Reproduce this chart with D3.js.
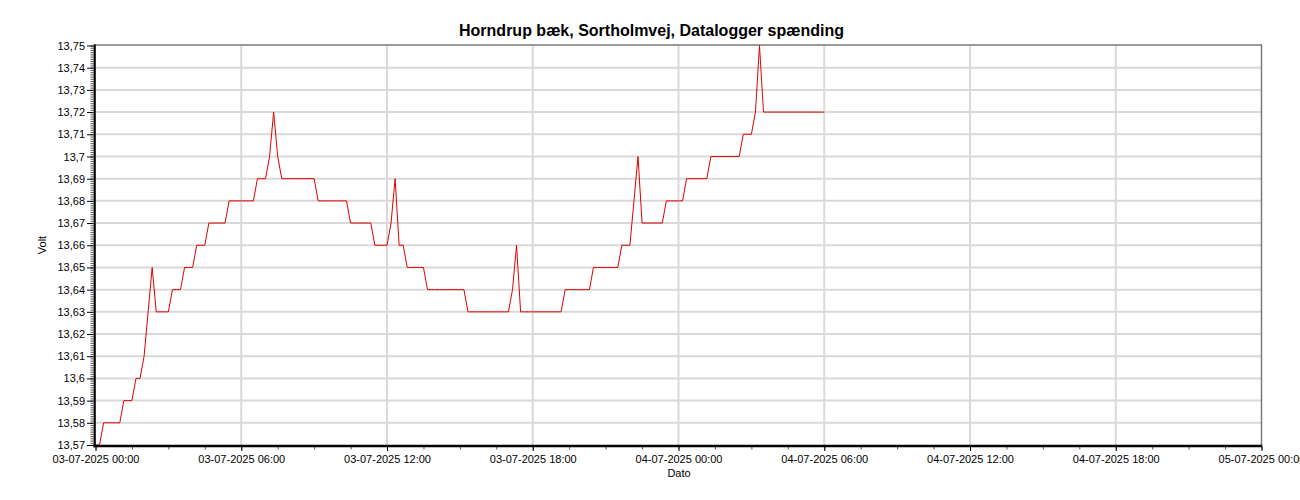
<!DOCTYPE html>
<html>
<head>
<meta charset="utf-8">
<script src="https://cdn.jsdelivr.net/npm/d3@7"></script>
<style>
  html, body { margin: 0; padding: 0; background: #ffffff; }
  svg { display: block; font-family: "Liberation Sans", Arial, sans-serif; }
</style>
</head>
<body>
<svg id="chart" width="1300" height="500"></svg>
<script>
// ---- Data ----
const chartTitle = "Horndrup bæk, Sortholmvej, Datalogger spænding";
const yAxisTitle = "Volt";
const xAxisTitle = "Dato";

const seriesStart = new Date(2025, 6, 3, 0, 0);   // 03-07-2025 00:00
const sampleMinutes = 10;                          // one reading every 10 minutes

// Datalogger voltage readings (Volt), one per 10 minutes from 03-07-2025 00:00 to 04-07-2025 06:00
const volts = [
  13.57,13.57,13.58,13.58,13.58,13.58,13.58,13.59,13.59,13.59,
  13.60,13.60,13.61,13.63,13.65,13.63,13.63,13.63,13.63,13.64,
  13.64,13.64,13.65,13.65,13.65,13.66,13.66,13.66,13.67,13.67,
  13.67,13.67,13.67,13.68,13.68,13.68,13.68,13.68,13.68,13.68,
  13.69,13.69,13.69,13.70,13.72,13.70,13.69,13.69,13.69,13.69,
  13.69,13.69,13.69,13.69,13.69,13.68,13.68,13.68,13.68,13.68,
  13.68,13.68,13.68,13.67,13.67,13.67,13.67,13.67,13.67,13.66,
  13.66,13.66,13.66,13.67,13.69,13.66,13.66,13.65,13.65,13.65,
  13.65,13.65,13.64,13.64,13.64,13.64,13.64,13.64,13.64,13.64,
  13.64,13.64,13.63,13.63,13.63,13.63,13.63,13.63,13.63,13.63,
  13.63,13.63,13.63,13.64,13.66,13.63,13.63,13.63,13.63,13.63,
  13.63,13.63,13.63,13.63,13.63,13.63,13.64,13.64,13.64,13.64,
  13.64,13.64,13.64,13.65,13.65,13.65,13.65,13.65,13.65,13.65,
  13.66,13.66,13.66,13.68,13.70,13.67,13.67,13.67,13.67,13.67,
  13.67,13.68,13.68,13.68,13.68,13.68,13.69,13.69,13.69,13.69,
  13.69,13.69,13.70,13.70,13.70,13.70,13.70,13.70,13.70,13.70,
  13.71,13.71,13.71,13.72,13.75,13.72,13.72,13.72,13.72,13.72,
  13.72,13.72,13.72,13.72,13.72,13.72,13.72,13.72,13.72,13.72,
  13.72
];

const yTicks = [13.57,13.58,13.59,13.60,13.61,13.62,13.63,13.64,13.65,13.66,13.67,13.68,13.69,13.70,13.71,13.72,13.73,13.74,13.75];
const yTickLabels = ["13,57","13,58","13,59","13,6","13,61","13,62","13,63","13,64","13,65","13,66","13,67","13,68","13,69","13,7","13,71","13,72","13,73","13,74","13,75"];

const xTicks = [
  new Date(2025,6,3,0), new Date(2025,6,3,6), new Date(2025,6,3,12), new Date(2025,6,3,18),
  new Date(2025,6,4,0), new Date(2025,6,4,6), new Date(2025,6,4,12), new Date(2025,6,4,18),
  new Date(2025,6,5,0)
];
const xTickLabels = [
  "03-07-2025 00:00","03-07-2025 06:00","03-07-2025 12:00","03-07-2025 18:00",
  "04-07-2025 00:00","04-07-2025 06:00","04-07-2025 12:00","04-07-2025 18:00",
  "05-07-2025 00:00"
];

// ---- Build ----
const points = volts.map((v, i) => ({ t: new Date(seriesStart.getTime() + i * sampleMinutes * 60000), v }));

const svg = d3.select("#chart");
const L = 95.5, R = 1261.5, T = 45.5, B = 445;

const x = d3.scaleTime().domain([xTicks[0], xTicks[xTicks.length - 1]]).range([L, R]);
const y = d3.scaleLinear().domain([yTicks[0], yTicks[yTicks.length - 1]]).range([B, T]);

const gridColor = "#d9d9d9";

// horizontal grid
svg.append("g").selectAll("line")
  .data(yTicks.slice(1, -1))
  .join("line")
  .attr("x1", L).attr("x2", R)
  .attr("y1", d => y(d)).attr("y2", d => y(d))
  .attr("stroke", gridColor).attr("stroke-width", 2);

// vertical grid
svg.append("g").selectAll("line")
  .data(xTicks.slice(1, -1))
  .join("line")
  .attr("x1", d => x(d)).attr("x2", d => x(d))
  .attr("y1", T).attr("y2", B)
  .attr("stroke", gridColor).attr("stroke-width", 2);

// frame top/right
svg.append("line").attr("x1", 94).attr("x2", R + 0.5).attr("y1", T - 0.5).attr("y2", T - 0.5)
  .attr("stroke", "#7a7a7a").attr("stroke-width", 1.5);
svg.append("line").attr("x1", R).attr("x2", R).attr("y1", T - 1).attr("y2", B + 2)
  .attr("stroke", "#7a7a7a").attr("stroke-width", 1.5);

// data line
const line = d3.line().x(d => x(d.t)).y(d => y(d.v));
svg.append("path").datum(points)
  .attr("d", line)
  .attr("fill", "none")
  .attr("stroke", "#e00000")
  .attr("stroke-width", 1);

// Y axis minor ticks
const yMinor = d3.range(0, 181).map(i => yTicks[0] + i * 0.001);
const yMinorAxis = d3.axisLeft(y).tickValues(yMinor).tickSize(3).tickSizeOuter(0).tickFormat("");
const gyMinor = svg.append("g").attr("transform", `translate(${93.5},0)`).call(yMinorAxis);
gyMinor.select(".domain").remove();
gyMinor.selectAll("line").attr("stroke", "#555").attr("stroke-width", 1);

// Y axis major
const yAxis = d3.axisLeft(y).tickValues(yTicks).tickSize(6.5).tickSizeOuter(0).tickPadding(2)
  .tickFormat((d, i) => yTickLabels[i]);
const gy = svg.append("g").attr("transform", `translate(${93.5},0)`).call(yAxis);
gy.select(".domain").remove();
gy.selectAll("line").attr("stroke", "#000").attr("stroke-width", 1);
gy.selectAll("text").attr("font-size", 11).attr("fill", "#000")
  .attr("font-family", "Liberation Sans, Arial, sans-serif");

// X axis minor ticks (every 1.5 h)
const xMinor = d3.range(0, 33).map(i => new Date(xTicks[0].getTime() + i * 90 * 60000));
const xMinorAxis = d3.axisBottom(x).tickValues(xMinor).tickSize(2.5).tickSizeOuter(0).tickFormat("");
const gxMinor = svg.append("g").attr("transform", `translate(0,${447})`).call(xMinorAxis);
gxMinor.select(".domain").remove();
gxMinor.selectAll("line").attr("stroke", "#555").attr("stroke-width", 1);

// X axis major
const xAxis = d3.axisBottom(x).tickValues(xTicks).tickSize(4).tickSizeOuter(0).tickPadding(4.5)
  .tickFormat((d, i) => xTickLabels[i]);
const gx = svg.append("g").attr("transform", `translate(0,${447})`).call(xAxis);
gx.select(".domain").remove();
gx.selectAll("line").attr("stroke", "#000").attr("stroke-width", 1);
gx.selectAll("text").attr("font-size", 11).attr("fill", "#000")
  .attr("font-family", "Liberation Sans, Arial, sans-serif");

// thick axis lines
svg.append("line").attr("x1", 94.7).attr("x2", 94.7).attr("y1", T - 1).attr("y2", 447.3)
  .attr("stroke", "#000").attr("stroke-width", 2.2);
svg.append("line").attr("x1", 93.6).attr("x2", R + 0.7).attr("y1", 446).attr("y2", 446)
  .attr("stroke", "#000").attr("stroke-width", 2.6);

// titles
svg.append("text").attr("x", 651.5).attr("y", 36).attr("text-anchor", "middle")
  .attr("font-size", 16).attr("font-weight", "bold").attr("fill", "#000").text(chartTitle);
svg.append("text").attr("x", 679).attr("y", 477).attr("text-anchor", "middle")
  .attr("font-size", 11).attr("fill", "#000").text(xAxisTitle);
svg.append("text").attr("transform", "translate(46,245) rotate(-90)").attr("text-anchor", "middle")
  .attr("font-size", 11).attr("fill", "#000").text(yAxisTitle);
</script>
</body>
</html>
